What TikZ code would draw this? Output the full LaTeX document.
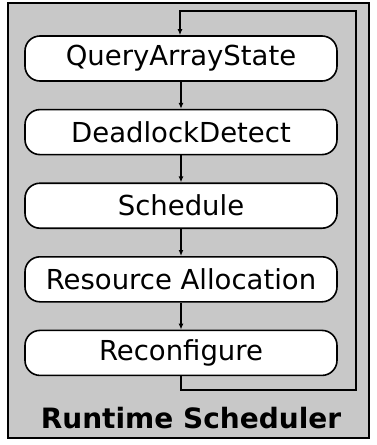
\documentclass[tikz,border=0pt]{standalone}
\usepackage{fontspec}
\setmainfont{DejaVu Sans}
\usepackage{tikz}
\usetikzlibrary{positioning,arrows,arrows.meta}

\begin{document}
\begin{tikzpicture}[x=1pt,y=1pt,
	stage/.style={draw=black,line width=1.6pt,fill=white,rounded corners=15pt,
		minimum width=312pt,minimum height=45pt,inner sep=0pt,font=\fontsize{27.5}{28}\selectfont},
	flow/.style={-{Latex[length=6pt,width=5pt]},line width=1.2pt},
	loopline/.style={line width=1.9pt}]
\useasboundingbox (0,0) rectangle (377,-445);
\draw [line width=1.9pt,fill={rgb,255:red,200;green,200;blue,200}] (8,-3) rectangle (369,-438);
\node [stage] (qas) at (181,-58.5) {QueryArrayState};
\node [stage,below=27pt of qas] (dld) {DeadlockDetect};
\node [stage,below=27pt of dld] (sch) {Schedule};
\node [stage,below=27pt of sch] (res) {Resource Allocation};
\node [stage,below=27pt of res] (rec) {Reconfigure};
\foreach \a/\b in {qas/dld,dld/sch,sch/res,res/rec}
	\draw [flow] (\a) -- (\b);
% feedback loop
\coordinate (loopbr) at (356,-390);
\coordinate (looptr) at (356,-11);
\coordinate (looptl) at (180,-11);
\draw [loopline] (rec.south) |- (loopbr) -- (looptr) -- ([xshift=-0.9pt]looptl);
\draw [flow] (looptl) -- (looptl |- qas.north);
\node [font=\bfseries\fontsize{28}{28}\selectfont] (title) at (191,-418) {Runtime Scheduler};
\end{tikzpicture}
\end{document}
